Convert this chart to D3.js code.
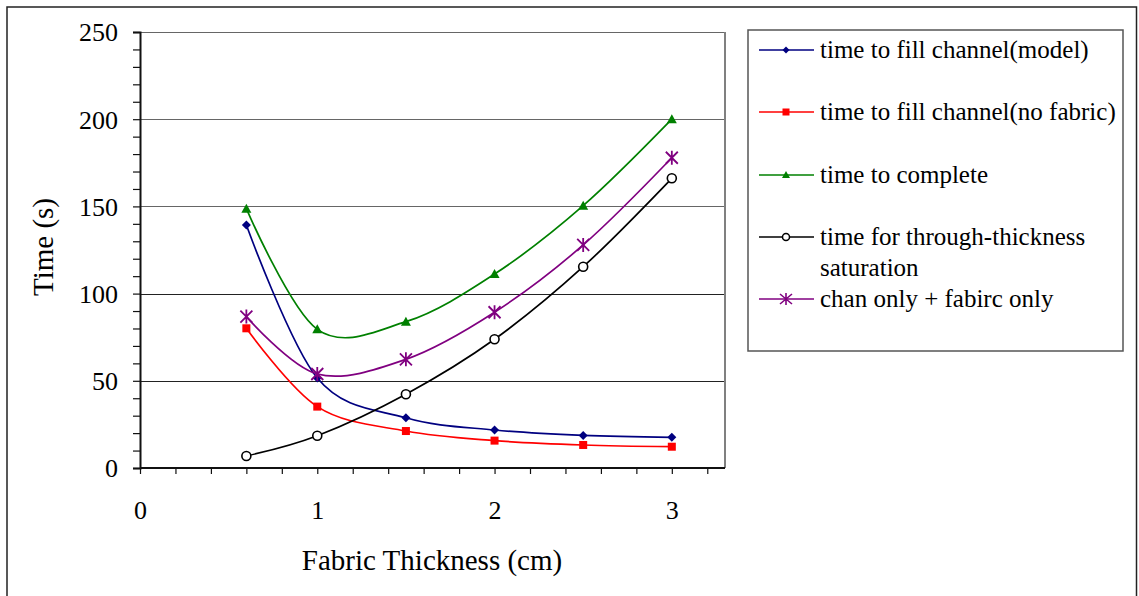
<!DOCTYPE html>
<html><head><meta charset="utf-8">
<script src="https://cdn.jsdelivr.net/npm/d3@7/dist/d3.min.js"></script>
<style>
html,body{margin:0;padding:0;background:#fff;}
svg{display:block;}
svg text{font-family:"Liberation Serif","Times New Roman",Times,serif !important;}
</style></head>
<body><svg id="c" width="1139" height="596"></svg>
<script>
const thickness = [0.6, 1, 1.5, 2, 2.5, 3];
const fillModel = [139.3, 51.6, 28.8, 21.8, 18.7, 17.6];
const fillNoFabric = [80.1, 35.2, 21.2, 15.7, 13.2, 12.2];
const complete = [148.7, 79.5, 83.9, 111.2, 150.4, 200.0];
const throughThickness = [6.9, 18.5, 42.3, 73.8, 115.4, 166.1];
const chanPlusFabric = [86.8, 53.9, 62.3, 89.3, 127.9, 177.9];
const seriesNames = ["time to fill channel(model)", "time to fill channel(no fabric)", "time to complete", "time for through-thickness saturation", "chan only + fabirc only"];
const xTickLabels = [0, 1, 2, 3];
const yTickLabels = [0, 50, 100, 150, 200, 250];

const FONT = '"Liberation Serif","Times New Roman",Times,serif';
const series = [
  {name: seriesNames[0], values: fillModel, color: "#000080", marker: "diamond"},
  {name: seriesNames[1], values: fillNoFabric, color: "#ff0000", marker: "square"},
  {name: seriesNames[2], values: complete, color: "#008000", marker: "triangle"},
  {name: seriesNames[3], values: throughThickness, color: "#000000", marker: "circle"},
  {name: seriesNames[4], values: chanPlusFabric, color: "#800080", marker: "star"}
];

const svg = d3.select("#c").attr("font-family", FONT);
const L = 140, R = 725, T = 32, B = 468;
const x = d3.scaleLinear().domain([0, 3.3]).range([L, R]);
const y = d3.scaleLinear().domain([0, 250]).range([B, T]);

// outer frame
svg.append("rect").attr("x", 7).attr("y", 7).attr("width", 1129.5).attr("height", 620)
  .attr("fill", "none").attr("stroke", "#222").attr("stroke-width", 1.5);

// gridlines
svg.append("g").selectAll("line").data(yTickLabels.filter(d => d > 0)).join("line")
  .attr("x1", L).attr("x2", R)
  .attr("y1", d => Math.round(y(d)) + 0.5).attr("y2", d => Math.round(y(d)) + 0.5)
  .attr("stroke", d => d >= 150 ? "#666" : "#222").attr("stroke-width", 1.2);

// right border of plot
svg.append("line").attr("x1", R).attr("x2", R).attr("y1", T).attr("y2", B)
  .attr("stroke", "#808080").attr("stroke-width", 2);

// y axis
const yAxis = d3.axisLeft(y).tickValues(d3.range(0, 251, 10)).tickSize(7).tickPadding(15)
  .tickFormat(d => yTickLabels.includes(d) ? String(d) : "");
const gy = svg.append("g").attr("transform", `translate(${L},0)`).call(yAxis).attr("font-family", FONT);
gy.select(".domain").attr("stroke", "#111").attr("stroke-width", 2);
gy.selectAll(".tick line").attr("stroke", "#111").attr("stroke-width", 1.2);
gy.selectAll(".tick text").attr("font-size", 26).attr("fill", "#000")
  .attr("font-family", FONT).attr("dy", "0.34em");

// x axis
const xAxis = d3.axisBottom(x).tickValues(d3.range(0, 16.5).map(i => i * 0.2)).tickSize(6).tickPadding(27)
  .tickFormat(d => xTickLabels.some(v => Math.abs(v - d) < 1e-9) ? String(Math.round(d)) : "");
const gx = svg.append("g").attr("transform", `translate(0,${B})`).call(xAxis).attr("font-family", FONT);
gx.select(".domain").attr("stroke", "#111").attr("stroke-width", 2).attr("d", `M${L},0H${R}`);
gx.selectAll(".tick line").attr("stroke", "#111").attr("stroke-width", 1.2);
gx.selectAll(".tick text").attr("font-size", 26).attr("fill", "#000")
  .attr("font-family", FONT);

// axis titles
svg.append("text").attr("x", 432).attr("y", 570).attr("text-anchor", "middle")
  .attr("font-family", FONT).attr("font-size", 29).text("Fabric Thickness (cm)");
svg.append("text").attr("transform", "translate(53,247) rotate(-90)").attr("text-anchor", "middle")
  .attr("font-family", FONT).attr("font-size", 29).text("Time (s)");

// markers
function drawMarker(g, type, color, cx, cy) {
  if (type === "diamond") {
    g.append("path").attr("d", `M${cx},${cy-4.5}L${cx+4.5},${cy}L${cx},${cy+4.5}L${cx-4.5},${cy}Z`).attr("fill", color);
  } else if (type === "square") {
    g.append("rect").attr("x", cx - 4).attr("y", cy - 4).attr("width", 8).attr("height", 8).attr("fill", color);
  } else if (type === "triangle") {
    g.append("path").attr("d", `M${cx},${cy-5}L${cx+5},${cy+4}L${cx-5},${cy+4}Z`).attr("fill", color);
  } else if (type === "circle") {
    g.append("circle").attr("cx", cx).attr("cy", cy).attr("r", 4.5).attr("fill", "#fff").attr("stroke", color).attr("stroke-width", 1.6);
  } else if (type === "star") {
    const s = 6;
    g.append("path").attr("d", `M${cx-s},${cy-s}L${cx+s},${cy+s}M${cx-s},${cy+s}L${cx+s},${cy-s}M${cx},${cy-s-1}L${cx},${cy+s+1}`)
      .attr("stroke", color).attr("stroke-width", 1.8).attr("fill", "none");
  }
}

const line = d3.line().x(d => x(d[0])).y(d => y(d[1])).curve(d3.curveCardinal.tension(0));
const plot = svg.append("g");
series.forEach(s => {
  const pts = thickness.map((t, i) => [t, s.values[i]]);
  plot.append("path").datum(pts).attr("d", line).attr("fill", "none")
    .attr("stroke", s.color).attr("stroke-width", 1.7);
  const mg = plot.append("g");
  pts.forEach(p => drawMarker(mg, s.marker, s.color, x(p[0]), y(p[1])));
});

// legend
const lg = svg.append("g").attr("font-family", FONT);
lg.append("rect").attr("x", 748).attr("y", 30).attr("width", 375).attr("height", 321)
  .attr("fill", "#fff").attr("stroke", "#555").attr("stroke-width", 1.5);
const rowY = [50, 112, 175, 237, 299];
series.forEach((s, i) => {
  const ry = rowY[i];
  lg.append("line").attr("x1", 759).attr("x2", 814).attr("y1", ry).attr("y2", ry)
    .attr("stroke", s.color).attr("stroke-width", 1.7);
  const mg = lg.append("g");
  if (s.marker === "star") {
    mg.append("path").attr("d", `M780,${ry-5}L792,${ry+5}M780,${ry+5}L792,${ry-5}M786,${ry-6}L786,${ry+6}`)
      .attr("stroke", s.color).attr("stroke-width", 1.6);
  } else if (s.marker === "circle") {
    mg.append("circle").attr("cx", 786).attr("cy", ry).attr("r", 3.5).attr("fill", "#fff").attr("stroke", s.color).attr("stroke-width", 1.5);
  } else if (s.marker === "diamond") {
    mg.append("path").attr("d", `M786,${ry-3.5}L789.5,${ry}L786,${ry+3.5}L782.5,${ry}Z`).attr("fill", s.color);
  } else if (s.marker === "square") {
    mg.append("rect").attr("x", 782.5).attr("y", ry - 3.5).attr("width", 7).attr("height", 7).attr("fill", s.color);
  } else {
    mg.append("path").attr("d", `M786,${ry-4}L790,${ry+3}L782,${ry+3}Z`).attr("fill", s.color);
  }
  if (i === 3) {
    const t = lg.append("text").attr("x", 820).attr("y", ry + 8).attr("font-size", 25).attr("font-family", FONT);
    t.append("tspan").attr("x", 820).text("time for through-thickness");
    t.append("tspan").attr("x", 820).attr("dy", 31).text("saturation");
  } else {
    lg.append("text").attr("x", 820).attr("y", ry + 8).attr("font-size", 25).attr("font-family", FONT).text(s.name);
  }
});
</script></body></html>
